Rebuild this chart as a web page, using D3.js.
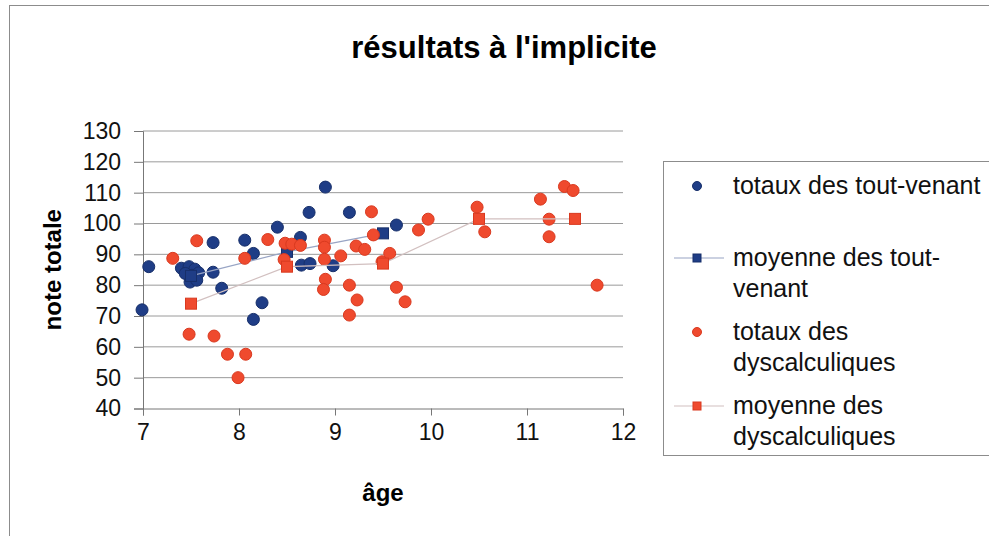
<!DOCTYPE html>
<html>
<head>
<meta charset="utf-8">
<script src="https://cdn.jsdelivr.net/npm/d3@7"></script>
<style>
  body { margin: 0; background: white; }
  text { font-family: "Liberation Sans", Arial, sans-serif; }
</style>
</head>
<body>
<div id="chart"></div>
<script>
// totaux des tout-venant (blue dots)
const tvAges  = [6.99, 7.06, 7.40, 7.48, 7.54, 7.44, 7.51, 7.58, 7.49, 7.56, 7.73, 7.73, 7.82, 8.06, 8.15, 8.24, 8.15, 8.40, 8.64, 8.73, 8.90, 9.15, 8.65, 8.74, 8.98, 9.64];
const tvNotes = [72, 86, 85.5, 86, 85.2, 83.8, 83.2, 84, 81, 81.6, 84.2, 93.8, 79, 94.6, 90.3, 74.3, 68.9, 98.8, 95.5, 103.6, 111.8, 103.6, 86.5, 87, 86.3, 99.5];

// moyenne des tout-venant
const tvMeanAges  = [7.5, 8.5, 9.5];
const tvMeanNotes = [83, 90.8, 96.8];

// totaux des dyscalculiques (red dots)
const dysAges  = [7.31, 7.56, 7.48, 7.74, 7.88, 8.07, 7.99, 8.06, 8.30, 8.48, 8.55, 8.64, 8.47, 8.89, 8.89, 8.89, 9.06, 9.22, 9.31, 9.40, 9.38, 8.90, 8.88, 9.15, 9.23, 9.15, 9.64, 9.73, 9.49, 9.57, 9.87, 9.97, 10.48, 10.56, 11.14, 11.39, 11.48, 11.23, 11.23, 11.73];
const dysNotes = [88.7, 94.4, 64.1, 63.5, 57.6, 57.6, 50, 88.7, 94.8, 93.6, 93.3, 92.9, 88.3, 94.6, 92.3, 88.4, 89.5, 92.7, 91.6, 96.3, 103.8, 81.9, 78.6, 80, 75.2, 70.3, 79.3, 74.6, 87.6, 90.3, 97.9, 101.4, 105.3, 97.3, 107.9, 112, 110.7, 101.4, 95.7, 80];

// moyenne des dyscalculiques
const dysMeanAges  = [7.5, 8.5, 9.5, 10.5, 11.5];
const dysMeanNotes = [74, 86, 87, 101.5, 101.5];

const xTicks = [7, 8, 9, 10, 11, 12];
const yTicks = [40, 50, 60, 70, 80, 90, 100, 110, 120, 130];

const legendLabels = [
  ['totaux des tout-venant'],
  ['moyenne des tout-', 'venant'],
  ['totaux des', 'dyscalculiques'],
  ['moyenne des', 'dyscalculiques']
];

const blueFill = '#1f3d86', blueStroke = '#172f6a';
const redFill = '#ef4a2e', redStroke = '#d9391f';
const blueLine = '#98a4c4', redLine = '#d2c0c0';

const width = 989, height = 536;

const svg = d3.select('#chart').append('svg')
  .attr('width', width)
  .attr('height', height);

// outer chart border (only top and left visible)
svg.append('rect')
  .attr('x', 9.5).attr('y', 5.5)
  .attr('width', 1000).attr('height', 560)
  .attr('fill', 'white')
  .attr('stroke', '#8c8c8c');

const x = d3.scaleLinear().domain([7, 12]).range([143, 623]);
const y = d3.scaleLinear().domain([40, 130]).range([408.5, 131]);

// title
svg.append('text')
  .attr('x', 504).attr('y', 58)
  .attr('text-anchor', 'middle')
  .style('font-weight', 'bold')
  .style('font-size', '31px')
  .text("résultats à l'implicite");

// gridlines
svg.append('g')
  .selectAll('line')
  .data(yTicks.slice(1))
  .join('line')
  .attr('x1', x(7)).attr('x2', x(12))
  .attr('y1', d => y(d)).attr('y2', d => y(d))
  .attr('stroke', '#9a9a9a');

// y axis
const yAxis = svg.append('g')
  .attr('transform', `translate(${x(7)},0)`)
  .call(d3.axisLeft(y).tickValues(yTicks).tickSize(9).tickPadding(13));
yAxis.select('.domain').attr('stroke', '#777');
yAxis.selectAll('.tick line').attr('stroke', '#777');
yAxis.selectAll('.tick text')
  .style('font-size', '23px')
  .attr('fill', '#111');

// x axis
const xAxis = svg.append('g')
  .attr('transform', `translate(0,${y(40)})`)
  .call(d3.axisBottom(x).tickValues(xTicks).tickSize(7).tickPadding(8).tickFormat(d3.format('d')));
xAxis.select('.domain').attr('stroke', '#777');
xAxis.selectAll('.tick line').attr('stroke', '#777');
xAxis.selectAll('.tick text')
  .style('font-size', '23px')
  .attr('fill', '#111');

// axis titles
svg.append('text')
  .attr('transform', `translate(61,${(y(40) + y(130)) / 2}) rotate(-90)`)
  .attr('text-anchor', 'middle')
  .style('font-weight', 'bold')
  .style('font-size', '24px')
  .text('note totale');

svg.append('text')
  .attr('x', (x(7) + x(12)) / 2).attr('y', 501)
  .attr('text-anchor', 'middle')
  .style('font-weight', 'bold')
  .style('font-size', '24px')
  .text('âge');

const plot = svg.append('g');
const line = d3.line().x(d => x(d[0])).y(d => y(d[1]));

const drawDots = (ages, notes, fill, stroke) => {
  plot.append('g')
    .selectAll('circle')
    .data(d3.zip(ages, notes))
    .join('circle')
    .attr('cx', d => x(d[0]))
    .attr('cy', d => y(d[1]))
    .attr('r', 6)
    .attr('fill', fill)
    .attr('stroke', stroke)
    .attr('stroke-width', 1);
};

const drawMeans = (ages, notes, lineColor, fill, stroke) => {
  const pts = d3.zip(ages, notes);
  plot.append('path')
    .attr('d', line(pts))
    .attr('fill', 'none')
    .attr('stroke', lineColor)
    .attr('stroke-width', 1.2);
  plot.append('g')
    .selectAll('rect')
    .data(pts)
    .join('rect')
    .attr('x', d => x(d[0]) - 5.5)
    .attr('y', d => y(d[1]) - 5.5)
    .attr('width', 11).attr('height', 11)
    .attr('fill', fill)
    .attr('stroke', stroke);
};

drawDots(tvAges, tvNotes, blueFill, blueStroke);
drawMeans(tvMeanAges, tvMeanNotes, blueLine, blueFill, blueStroke);
drawDots(dysAges, dysNotes, redFill, redStroke);
drawMeans(dysMeanAges, dysMeanNotes, redLine, redFill, redStroke);

// legend
const legend = svg.append('g');
legend.append('rect')
  .attr('x', 663.5).attr('y', 161.5)
  .attr('width', 340).attr('height', 294)
  .attr('fill', 'white')
  .attr('stroke', '#8c8c8c');

const legendY = [186, 258, 332, 406];
const legendStyle = [
  { fill: blueFill, stroke: blueStroke, shape: 'circle' },
  { fill: blueFill, stroke: blueStroke, shape: 'square', line: blueLine },
  { fill: redFill, stroke: redStroke, shape: 'circle' },
  { fill: redFill, stroke: redStroke, shape: 'square', line: redLine }
];

legendLabels.forEach((lines, i) => {
  const st = legendStyle[i];
  const cy = legendY[i];
  if (st.line) {
    legend.append('line')
      .attr('x1', 674).attr('x2', 724)
      .attr('y1', cy).attr('y2', cy)
      .attr('stroke', st.line)
      .attr('stroke-width', 1.2);
    legend.append('rect')
      .attr('x', 693).attr('y', cy - 4)
      .attr('width', 8).attr('height', 8)
      .attr('fill', st.fill).attr('stroke', st.stroke);
  } else {
    legend.append('circle')
      .attr('cx', 697).attr('cy', cy)
      .attr('r', 4.5)
      .attr('fill', st.fill).attr('stroke', st.stroke);
  }
  legend.append('text')
    .attr('x', 733).attr('y', cy + 8)
    .style('font-size', '25px')
    .attr('fill', '#111')
    .selectAll('tspan')
    .data(lines)
    .join('tspan')
    .attr('x', 733)
    .attr('dy', (d, j) => j === 0 ? 0 : 31)
    .text(d => d);
});
</script>
</body>
</html>
